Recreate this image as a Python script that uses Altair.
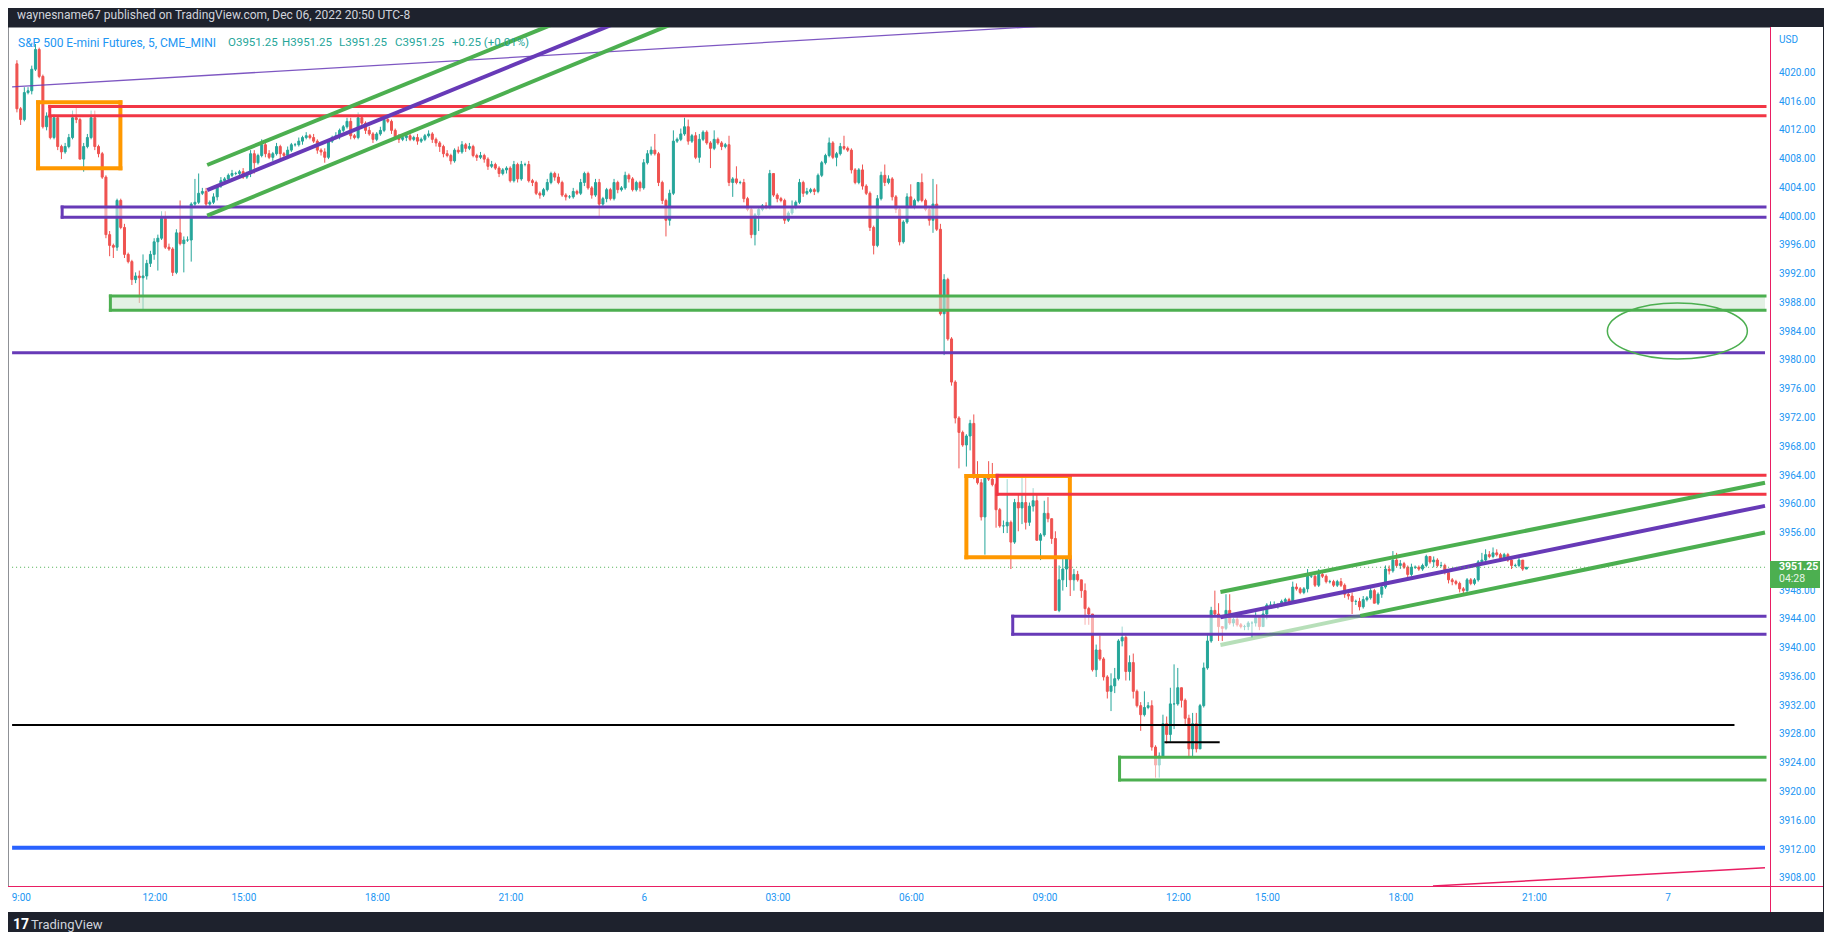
import altair as alt
import pandas as pd

FONT = "Roboto"
BG = "#1e222d"
UP = "#26a69a"
DOWN = "#ef5350"
TXT_BLUE = "#2196f3"
PURPLE = "#673ab7"
GREEN = "#4caf50"
RED = "#f23645"
ORANGE = "#ff9800"
LINE_BLUE = "#2962ff"
PINK = "#e91e63"

# time axis: t = 5-minute bar index, t = 0 is 09:00 on Dec 5 (14:00-15:00 break skipped)
X_DOMAIN = [-3.056, 469.33]
Y_DOMAIN = [3906.93, 4026.37]
AXIS_T = 469.33  # bar position of the price-scale line
PLOT_W, PLOT_H = 1762, 859

time_ticks = [0, 36, 60, 96, 132, 168, 204, 240, 276, 312, 336, 372, 408, 444]
time_labels = ["9:00", "12:00", "15:00", "18:00", "21:00", "6", "03:00", "06:00",
               "09:00", "12:00", "15:00", "18:00", "21:00", "7"]
# 3952.00 is hidden under the last-price tag in the original
price_ticks = [3908, 3912, 3916, 3920, 3924, 3928, 3932, 3936, 3940, 3944, 3948,
               3956, 3960, 3964, 3968, 3972, 3976, 3980, 3984, 3988, 3992, 3996, 4000,
               4004, 4008, 4012, 4016, 4020]

# ---------------- candles ----------------
T0 = -2
FIRST_OPEN = 4021.25

close_a = [
    4015.0, 4013.5, 4017.25, 4017.5, 4020.5, 4023.25, 4019.5, 4012.5, 4014.0, 4011.0,
    4013.75, 4009.75, 4009.0, 4009.75, 4011.0, 4013.75, 4013.5, 4008.0, 4009.75, 4011.0,
    4013.75, 4009.75, 4008.75, 4005.5, 3997.5, 3996.0, 3995.75, 4002.25, 3998.5, 3994.75,
    3993.75, 3991.25, 3991.75, 3991.5, 3991.75, 3993.5, 3994.75, 3996.5, 3997.0, 3999.75,
    3995.75, 3995.5, 3992.25, 3997.75, 3996.25, 3996.75, 3996.75, 4001.75, 4002.0, 4003.25,
    4003.5, 4001.75, 4002.0, 4002.75, 4004.25, 4005.0, 4005.25, 4005.75, 4006.0, 4006.0,
    4006.25, 4005.5, 4006.0, 4008.75, 4007.5, 4008.5, 4010.0, 4008.75, 4008.25, 4008.75,
    4009.75, 4008.75, 4008.5, 4009.25, 4010.0, 4010.0, 4010.5, 4011.0, 4011.25, 4011.0,
    4010.5, 4009.25, 4009.0, 4008.25, 4010.5, 4011.0, 4011.25, 4012.0, 4012.5, 4013.25,
    4011.25, 4011.0, 4013.75, 4013.0, 4012.0, 4011.5, 4010.75, 4011.5, 4012.0, 4013.5,
    4013.25, 4012.0, 4011.0, 4010.75, 4011.0, 4011.25, 4010.75, 4011.0, 4010.5, 4010.75,
    4011.25, 4011.5, 4010.75, 4010.25, 4009.75, 4008.75, 4008.5, 4007.75, 4009.25, 4009.0,
    4010.0, 4009.5, 4009.75, 4008.5, 4008.25, 4008.5, 4008.0, 4007.0, 4007.25, 4006.75,
    4006.0]
up_a = [
    2, 1, 3, 2, 2, 3, 1, 1, 2, 1,
    2, 1, 1, 2, 2, 4, 6, 1, 2, 2,
    4, 4, 1, 1, 1, 2, 1, 1, 1, 2,
    1, 1, 2, 3, 12, 2, 2, 2, 2, 4,
    4, 2, 1, 2, 18, 2, 2, 1, 13, 11,
    2, 2, 1, 2, 1, 2, 1, 1, 2, 1,
    1, 2, 1, 2, 2, 1, 3, 1, 2, 1,
    2, 1, 1, 2, 1, 1, 2, 1, 2, 1,
    2, 1, 1, 2, 1, 1, 2, 1, 1, 2,
    2, 1, 3, 1, 1, 2, 1, 1, 2, 2,
    1, 1, 1, 2, 1, 2, 1, 1, 2, 1,
    1, 2, 1, 1, 1, 1, 2, 1, 1, 2,
    2, 1, 2, 1, 1, 2, 1, 1, 2, 1, 1]
dn_a = [
    2, 3, 1, 1, 2, 1, 1, 1, 2, 1,
    1, 2, 4, 1, 1, 1, 2, 0, 7, 1,
    1, 2, 2, 1, 2, 6, 6, 2, 1, 2,
    1, 3, 2, 14, 18, 2, 2, 3, 16, 1,
    1, 1, 2, 1, 1, 16, 1, 12, 1, 1,
    1, 2, 1, 1, 2, 1, 1, 2, 1, 1,
    2, 1, 1, 2, 6, 1, 1, 2, 1, 2,
    1, 3, 1, 2, 1, 1, 1, 2, 1, 1,
    1, 2, 2, 3, 1, 1, 1, 2, 1, 1,
    2, 1, 1, 1, 2, 1, 2, 1, 1, 1,
    1, 2, 1, 2, 1, 2, 1, 1, 2, 1,
    1, 1, 2, 2, 3, 2, 1, 2, 1, 1,
    1, 2, 1, 1, 2, 1, 2, 2, 1, 1, 2]

close_b = [
    4006.5, 4006.75, 4005.0, 4007.25, 4005.25, 4007.25, 4007.25, 4005.0, 4004.75, 4003.25,
    4003.0, 4003.75, 4004.75, 4006.0, 4005.5, 4004.75, 4003.0, 4002.75, 4002.75, 4003.5,
    4003.25, 4004.75, 4006.0, 4004.0, 4003.0, 4004.75, 4001.75, 4002.5, 4003.75, 4002.5,
    4004.75, 4003.75, 4004.0, 4005.75, 4005.25, 4003.75, 4004.75, 4004.0, 4007.5, 4008.75,
    4009.25, 4008.75, 4004.75, 4002.25, 3999.5, 4003.25, 4010.5, 4010.75, 4011.5, 4012.5,
    4010.5, 4011.25, 4008.25, 4010.75, 4011.75, 4010.25, 4009.5, 4010.75, 4010.25, 4009.75,
    4010.0, 4004.75, 4005.25, 4004.75, 4004.75, 4002.5, 4001.0, 3997.5, 4000.25, 4001.0,
    4001.5, 4001.25, 4006.0, 4003.0, 4002.5, 4002.25, 3999.5, 4000.5, 4001.25, 4002.0,
    4004.75, 4003.25, 4003.5, 4003.75, 4003.5, 4005.75, 4007.5, 4008.5, 4010.25, 4008.25,
    4008.75, 4009.75, 4009.5, 4009.25, 4006.5, 4004.75, 4006.5, 4004.25, 4003.25, 3998.5,
    3996.0, 4002.5, 4005.75, 4004.75, 4005.25, 4002.75, 4001.0, 3996.5, 3999.25, 4002.75,
    4001.5, 4002.25, 4004.75, 4002.25, 4001.0, 3999.5, 4001.75, 3998.25]
up_b = [
    1, 1, 1, 2, 1, 2, 1, 2, 1, 1,
    1, 1, 2, 1, 1, 2, 1, 1, 1, 2,
    1, 2, 1, 1, 1, 2, 2, 1, 1, 1,
    2, 1, 1, 2, 1, 1, 1, 1, 2, 2,
    2, 9, 1, 1, 1, 2, 6, 1, 3, 5,
    4, 1, 2, 3, 1, 1, 1, 5, 1, 1,
    1, 5, 1, 7, 1, 2, 1, 1, 1, 1,
    1, 2, 2, 0, 1, 1, 1, 1, 4, 1,
    2, 1, 2, 1, 1, 1, 1, 1, 3, 1,
    1, 2, 6, 1, 1, 1, 1, 3, 1, 1,
    1, 2, 2, 6, 2, 1, 1, 1, 1, 2,
    7, 1, 0, 5, 1, 1, 14, 11]
dn_b = [
    1, 2, 1, 1, 2, 1, 1, 1, 2, 1,
    2, 1, 1, 1, 2, 1, 1, 2, 1, 1,
    1, 1, 2, 1, 2, 1, 7, 1, 2, 1,
    1, 2, 1, 1, 2, 1, 1, 2, 1, 1,
    1, 1, 2, 2, 9, 3, 1, 1, 1, 1,
    2, 1, 1, 3, 1, 1, 11, 1, 1, 2,
    1, 2, 8, 1, 1, 2, 1, 2, 6, 9,
    1, 1, 1, 1, 2, 1, 2, 1, 1, 1,
    1, 2, 1, 1, 2, 1, 1, 1, 1, 1,
    5, 1, 1, 1, 2, 1, 1, 2, 1, 2,
    5, 1, 1, 2, 1, 2, 2, 2, 1, 1,
    1, 2, 1, 1, 1, 3, 7, 1]

close_c = [
    3986.5, 3991.25, 3983.0, 3977.0, 3972.0, 3970.0, 3968.25, 3969.5, 3971.25, 3963.75,
    3963.0, 3958.25, 3963.75, 3963.5, 3962.75, 3959.25, 3957.0, 3957.0, 3957.5, 3954.75,
    3960.25, 3959.5, 3960.25, 3957.5, 3959.75, 3960.5, 3955.0, 3955.75, 3958.75, 3958.0,
    3955.25, 3945.25, 3949.5, 3951.0, 3952.5, 3949.5, 3950.25, 3949.5, 3948.0, 3945.5,
    3944.75]
up_c = [3, 3, 1, 1, 1, 1, 1, 1, 2, 5, 9, 2, 1, 9, 9, 1, 1, 3, 24, 1,
        2, 5, 14, 14, 2, 7, 4, 1, 7, 9, 0, 4, 8, 7, 1, 0, 3, 2, 0, 4, 1]
dn_c = [1, 23, 1, 2, 3, 20, 1, 12, 8, 1, 1, 2, 21, 1, 1, 10, 1, 4, 4, 15,
        1, 13, 9, 4, 2, 3, 0, 11, 1, 2, 3, 0, 1, 6, 10, 9, 6, 1, 4, 9, 6]

close_d = [
    3937.0, 3939.75, 3938.5, 3936.0, 3934.0, 3934.75, 3935.75, 3941.0, 3941.5, 3936.75,
    3938.0, 3934.0, 3932.0, 3930.75, 3931.75, 3932.0, 3926.25, 3923.75, 3925.0, 3929.5,
    3928.0, 3932.25, 3932.25, 3934.5, 3932.75, 3930.25, 3926.0, 3929.5, 3926.0, 3932.0,
    3937.25]
up_d = [0, 3, 8, 1, 1, 7, 6, 1, 6, 1, 4, 5, 1, 2, 9, 2, 3, 1, 2, 5,
        4, 9, 22, 11, 0, 1, 2, 6, 6, 1, 3]
dn_d = [1, 4, 1, 2, 4, 11, 4, 1, 3, 5, 5, 4, 1, 9, 1, 1, 2, 7, 7, 1,
        5, 4, 14, 1, 4, 4, 4, 4, 2, 0, 1]

close_e = [
    3941.0, 3945.25, 3944.75, 3943.0, 3942.75, 3945.25, 3943.5, 3944.0, 3943.25, 3943.0,
    3943.0, 3943.5, 3943.5, 3944.25, 3943.0, 3944.75, 3946.0, 3946.0, 3946.0, 3946.0,
    3946.5, 3946.75, 3946.5, 3948.5, 3948.25, 3947.75, 3948.25, 3950.0, 3950.0, 3948.75,
    3950.25, 3950.0, 3949.25, 3949.25, 3948.75, 3949.25, 3948.75, 3947.5, 3947.25, 3946.5,
    3946.5, 3945.75, 3946.75, 3947.0, 3948.0, 3946.25, 3947.5, 3948.5, 3951.0, 3950.75,
    3952.25, 3951.5, 3951.75, 3951.25, 3950.25, 3951.25, 3951.25, 3951.0, 3951.5, 3952.75,
    3952.0, 3952.25, 3951.5, 3951.5, 3950.5, 3949.5, 3949.25, 3949.0, 3948.25, 3948.0,
    3949.5, 3949.0, 3949.5, 3952.0, 3952.25, 3953.0, 3952.75, 3953.25, 3953.0, 3952.5,
    3953.0, 3952.25, 3951.5, 3951.5, 3952.25, 3951.0, 3951.25]
up_e = [
    4, 2, 11, 6, 0, 9, 9, 1, 3, 1,
    1, 1, 1, 3, 1, 3, 1, 2, 2, 1,
    1, 1, 1, 3, 2, 1, 1, 4, 2, 1,
    3, 1, 1, 1, 1, 1, 2, 1, 1, 2,
    1, 2, 2, 1, 2, 1, 1, 2, 2, 2,
    5, 4, 2, 1, 1, 2, 1, 1, 1, 1,
    0, 2, 1, 2, 1, 1, 1, 1, 1, 1,
    1, 1, 1, 1, 4, 3, 2, 3, 2, 1,
    1, 1, 1, 1, 2, 0, 0]
dn_e = [
    1, 1, 1, 8, 7, 1, 1, 2, 1, 1,
    2, 2, 8, 2, 2, 0, 3, 1, 1, 2,
    1, 1, 2, 1, 1, 1, 1, 2, 1, 1,
    1, 1, 1, 1, 1, 1, 1, 2, 2, 7,
    2, 2, 1, 1, 1, 0, 1, 2, 1, 2,
    1, 1, 2, 1, 2, 1, 1, 1, 1, 1,
    1, 3, 1, 1, 1, 2, 2, 1, 2, 2,
    1, 1, 1, 1, 1, 2, 1, 1, 1, 2,
    1, 1, 2, 1, 1, 1, 0]

closes = close_a + close_b + close_c + close_d + close_e
wick_up = up_a + up_b + up_c + up_d + up_e
wick_dn = dn_a + dn_b + dn_c + dn_d + dn_e
assert len(closes) == len(wick_up) == len(wick_dn), (len(closes), len(wick_up), len(wick_dn))

rows = []
prev = FIRST_OPEN
for i, c in enumerate(closes):
    o = prev
    rows.append({"t": T0 + i, "o": o, "c": c,
                 "hi": max(o, c) + 0.25 * wick_up[i],
                 "lo": min(o, c) - 0.25 * wick_dn[i],
                 "dir": "up" if c >= o else "down"})
    prev = c
candles = pd.DataFrame(rows)

# ---------------- drawings ----------------
zone_t1 = [3.7, 6.86, 10.2, 23.2, 254.0, 262.3, 266.5, 295.3]
zone_t2 = [25.9, AXIS_T, AXIS_T, AXIS_T, 281.9, AXIS_T, AXIS_T, AXIS_T]
zone_lo = [4006.72, 4014.02, 3999.92, 3987.0, 3952.63, 3961.39, 3941.94, 3921.67]
zone_hi = [4015.9, 4015.33, 4001.34, 3988.97, 3963.94, 3964.03, 3944.44, 3924.84]
zone_color = [ORANGE, RED, PURPLE, GREEN, ORANGE, RED, PURPLE, GREEN]
zone_width = [4, 3, 3, 3, 4, 3, 3, 3]
zone_closed = [True, False, False, False, True, False, False, False]
zone_fill = ["", "white", "white", "#d0e8d2", "", "white", "white", "white"]
zone_fill_op = [0, 0.55, 0.55, 0.6, 0, 0.55, 0.55, 0.55]

line_t1 = [-3.3, 49.3, 49.3, 49.3, -3.3, -3.3, -3.3, 307.4, 322.5, 322.5, 322.5, 360.2, 379.8]
line_p1 = [4018.05, 4007.18, 4003.70, 4000.13, 3981.08, 3912.25, 3929.32, 3926.91,
           3947.81, 3944.29, 3940.44, 3944.49, 3906.93]
line_t2 = [273.6, 147.3, 163.5, 179.2, AXIS_T, AXIS_T, 461.1, 322.3, AXIS_T, AXIS_T,
           360.2, AXIS_T, AXIS_T]
line_p2 = [4026.45, 4027.76, 4027.76, 4027.76, 3981.08, 3912.25, 3929.32, 3926.91,
           3962.99, 3959.79, 3944.49, 3956.08, 3909.47]
line_color = [PURPLE, GREEN, PURPLE, GREEN, PURPLE, LINE_BLUE, "#000000", "#000000",
              GREEN, PURPLE, GREEN, GREEN, PINK]
line_width = [1.3, 4, 4, 4, 3, 4, 2, 2, 4, 4, 4, 4, 1.5]
line_opacity = [0.85, 1, 1, 1, 1, 1, 1, 1, 1, 1, 0.4, 1, 1]

last_price = 3951.25
ellipse_t = [445.7]
ellipse_p = [3984.1]
ELLIPSE_PATH = "M -1 0 A 1 0.4 0 1 1 1 0 A 1 0.4 0 1 1 -1 0 Z"

# ---------------- scales ----------------
xs = alt.Scale(domain=X_DOMAIN, nice=False, zero=False)
ys = alt.Scale(domain=Y_DOMAIN, nice=False, zero=False)
dir_scale = alt.Scale(domain=["up", "down"], range=[UP, DOWN])


def one():
    return pd.DataFrame({"k": [0]})


# white panel continues under the price scale and the time scale
panel_right = alt.Chart(one()).mark_rect(color="white").encode(
    x=alt.value(PLOT_W), x2=alt.value(1815), y=alt.value(0), y2=alt.value(885))
panel_bottom = alt.Chart(one()).mark_rect(color="white").encode(
    x=alt.value(0), x2=alt.value(1815), y=alt.value(PLOT_H), y2=alt.value(885))

wicks = alt.Chart(candles).mark_rule(strokeWidth=1).encode(
    x=alt.X("t:Q", scale=xs, axis=None),
    y=alt.Y("lo:Q", scale=ys, axis=None),
    y2="hi:Q",
    color=alt.Color("dir:N", scale=dir_scale, legend=None),
)
bodies = alt.Chart(candles).mark_bar(size=2, strokeWidth=1).encode(
    x=alt.X("t:Q", scale=xs, axis=None),
    y=alt.Y("o:Q", scale=ys, axis=None),
    y2="c:Q",
    fill=alt.Fill("dir:N", scale=dir_scale, legend=None),
    stroke=alt.Stroke("dir:N", scale=dir_scale, legend=None),
)

fill_rows = []
edge_rows = []
for i in range(len(zone_t1)):
    t1, t2, lo, hi = zone_t1[i], zone_t2[i], zone_lo[i], zone_hi[i]
    c, w = zone_color[i], zone_width[i]
    if zone_fill[i]:
        fill_rows.append({"t1": t1, "t2": t2, "lo": lo, "hi": hi,
                          "fill": zone_fill[i], "op": zone_fill_op[i]})
    edge_rows += [{"t1": t1, "p1": hi, "t2": t2, "p2": hi, "color": c, "w": w},
                  {"t1": t1, "p1": lo, "t2": t2, "p2": lo, "color": c, "w": w},
                  {"t1": t1, "p1": lo, "t2": t1, "p2": hi, "color": c, "w": w}]
    if zone_closed[i]:
        edge_rows.append({"t1": t2, "p1": lo, "t2": t2, "p2": hi, "color": c, "w": w})

zone_fills = alt.Chart(pd.DataFrame(fill_rows)).mark_rect().encode(
    x=alt.X("t1:Q", scale=xs, axis=None), x2="t2:Q",
    y=alt.Y("lo:Q", scale=ys, axis=None), y2="hi:Q",
    fill=alt.Fill("fill:N", scale=None),
    opacity=alt.Opacity("op:Q", scale=None),
)
zone_edges = alt.Chart(pd.DataFrame(edge_rows)).mark_rule(strokeCap="square", clip=True).encode(
    x=alt.X("t1:Q", scale=xs, axis=None), x2="t2:Q",
    y=alt.Y("p1:Q", scale=ys, axis=None), y2="p2:Q",
    color=alt.Color("color:N", scale=None),
    strokeWidth=alt.StrokeWidth("w:Q", scale=None),
)

lines_df = pd.DataFrame({"t1": line_t1, "p1": line_p1, "t2": line_t2, "p2": line_p2,
                         "color": line_color, "w": line_width, "op": line_opacity})
lines = alt.Chart(lines_df).mark_rule(clip=True, strokeCap="butt").encode(
    x=alt.X("t1:Q", scale=xs, axis=None), x2="t2:Q",
    y=alt.Y("p1:Q", scale=ys, axis=None), y2="p2:Q",
    color=alt.Color("color:N", scale=None),
    strokeWidth=alt.StrokeWidth("w:Q", scale=None),
    opacity=alt.Opacity("op:Q", scale=None),
)

dotted = alt.Chart(pd.DataFrame({"t1": [-3.3], "t2": [AXIS_T], "p": [last_price]})).mark_rule(
    clip=True, color=GREEN, strokeWidth=1, strokeDash=[1, 3]).encode(
    x=alt.X("t1:Q", scale=xs, axis=None), x2="t2:Q",
    y=alt.Y("p:Q", scale=ys, axis=None),
)

ellipse = alt.Chart(pd.DataFrame({"t": ellipse_t, "p": ellipse_p})).mark_point(
    shape=ELLIPSE_PATH, size=19600, filled=False, strokeWidth=1.5, color=GREEN, opacity=1
).encode(x=alt.X("t:Q", scale=xs, axis=None), y=alt.Y("p:Q", scale=ys, axis=None))

# ---------------- price scale and time scale (labels placed by the same scales) ----------------
price_df = pd.DataFrame({"p": price_ticks, "s": [f"{v:.2f}" for v in price_ticks]})
price_labels = alt.Chart(price_df).mark_text(
    align="left", baseline="middle", font=FONT, fontSize=10, color=TXT_BLUE
).encode(x=alt.value(PLOT_W + 9), y=alt.Y("p:Q", scale=ys, axis=None), text="s:N")

time_df = pd.DataFrame({"t": time_ticks, "s": time_labels})
time_labels_layer = alt.Chart(time_df).mark_text(
    align="center", baseline="middle", font=FONT, fontSize=10, color=TXT_BLUE, dx=-3
).encode(x=alt.X("t:Q", scale=xs, axis=None), y=alt.value(PLOT_H + 12), text="s:N")

pink_h = alt.Chart(one()).mark_rule(color=PINK, strokeWidth=1).encode(
    x=alt.value(0), x2=alt.value(1815), y=alt.value(PLOT_H + 0.5))
pink_v = alt.Chart(one()).mark_rule(color=PINK, strokeWidth=1).encode(
    x=alt.value(PLOT_W + 0.5), y=alt.value(0), y2=alt.value(885))

box = alt.Chart(pd.DataFrame({"top": [3952.12], "bot": [3948.37]})).mark_rect(color=GREEN).encode(
    x=alt.value(PLOT_W), x2=alt.value(1812),
    y=alt.Y("top:Q", scale=ys, axis=None), y2="bot:Q",
)
box_price = alt.Chart(pd.DataFrame({"p": [last_price], "s": ["3951.25"]})).mark_text(
    align="left", baseline="middle", color="white", fontWeight="bold", fontSize=10.5, font=FONT
).encode(x=alt.value(1771), y=alt.Y("p:Q", scale=ys, axis=None), text="s:N")
box_time = alt.Chart(pd.DataFrame({"p": [3949.6], "s": ["04:28"]})).mark_text(
    align="left", baseline="middle", color="#e8f5e9", fontSize=10.5, font=FONT
).encode(x=alt.value(1771), y=alt.Y("p:Q", scale=ys, axis=None), text="s:N")


def label(txt, px, py, color, size, weight="normal"):
    return alt.Chart(pd.DataFrame({"s": [txt]})).mark_text(
        align="left", baseline="middle", font=FONT, fontSize=size, fontWeight=weight, color=color
    ).encode(x=alt.value(px), y=alt.value(py), text="s:N")


legend_txt = ["S&P 500 E-mini Futures, 5, CME_MINI", "O3951.25", "H3951.25", "L3951.25",
              "C3951.25", "+0.25 (+0.01%)"]
legend_x = [10, 220, 274, 331, 387, 444]
legend_size = [12, 11.5, 11.5, 11.5, 11.5, 11.5]
legend_col = [TXT_BLUE, UP, UP, UP, UP, UP]

texts = [label("waynesname67 published on TradingView.com, Dec 06, 2022 20:50 UTC-8",
               9, -12, "#d1d4dc", 12)]
texts += [label(s, x, 15.5, c, fs) for s, x, c, fs in zip(legend_txt, legend_x, legend_col, legend_size)]
texts += [label("USD", 1771, 13, TXT_BLUE, 10),
          label("17", 5, 898, "#ffffff", 14, "bold"),
          label("TradingView", 23, 898, "#d1d4dc", 13)]

chart = alt.layer(
    panel_right, panel_bottom,
    wicks, bodies, zone_fills, zone_edges, lines, dotted, ellipse,
    price_labels, time_labels_layer, pink_h, pink_v,
    box, box_price, box_time,
    *texts
).properties(
    width=PLOT_W, height=PLOT_H,
    autosize=alt.AutoSizeParams(type="none"),
    padding={"left": 0, "top": 19, "right": 54, "bottom": 46},
    background=BG,
).configure_view(fill="white", stroke="transparent")

chart.save("out.html", embed_options={"renderer": "svg", "actions": False})
